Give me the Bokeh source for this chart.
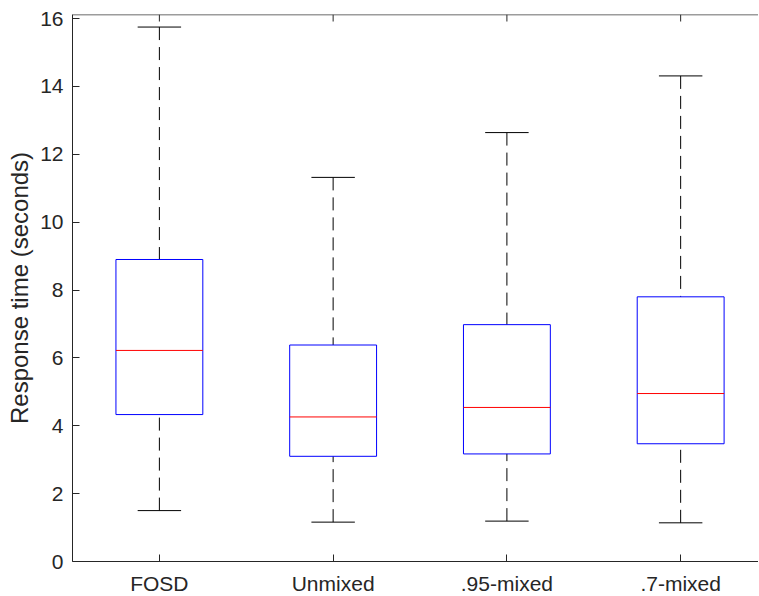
from bokeh.plotting import figure
from bokeh.models import Range1d, FixedTicker, LinearAxis, ColumnDataSource, Span
from bokeh.embed import file_html
from bokeh.resources import INLINE

categories = ["FOSD", "Unmixed", ".95-mixed", ".7-mixed"]
whisker_low = [1.50, 1.16, 1.19, 1.14]
q1 = [4.33, 3.10, 3.17, 3.47]
median = [6.22, 4.26, 4.54, 4.95]
q3 = [8.90, 6.38, 6.98, 7.80]
whisker_high = [15.75, 11.32, 12.64, 14.31]
y_ticks = [0, 2, 4, 6, 8, 10, 12, 14, 16]

Y_MAX = 16.12
X_MIN, X_MAX = 0.5, 4.448
FRAME_W, FRAME_H = 686, 547
TICK = 7

pos = list(range(1, len(categories) + 1))
box_half = 0.25
cap_half = 0.125
tick_data = TICK * Y_MAX / FRAME_H

src = ColumnDataSource(dict(
    x=pos,
    left=[v - box_half for v in pos],
    right=[v + box_half for v in pos],
    cap_l=[v - cap_half for v in pos],
    cap_r=[v + cap_half for v in pos],
    lo=whisker_low, q1=q1, med=median, q3=q3, hi=whisker_high,
    top=[Y_MAX] * len(pos),
    top_in=[Y_MAX - tick_data] * len(pos),
))

FONT = "Liberation Sans"
TXT = "#262626"
AX = "#262626"

p = figure(frame_width=FRAME_W, frame_height=FRAME_H,
           x_range=Range1d(X_MIN, X_MAX), y_range=Range1d(0, Y_MAX),
           output_backend="svg", toolbar_location=None,
           x_axis_location=None, y_axis_location=None,
           min_border_left=72, min_border_right=0,
           min_border_top=14, min_border_bottom=10)
p.outline_line_color = None
p.xgrid.visible = False
p.ygrid.visible = False
p.background_fill_color = "white"
p.border_fill_color = "white"

# top box edge with inward ticks
p.add_layout(Span(location=Y_MAX, dimension="width", line_color="#3a3a3a", line_width=1.5))
p.segment(x0="x", y0="top", x1="x", y1="top_in", source=src,
          line_color=AX, line_width=1)

# whiskers (dashed)
p.segment(x0="x", y0="hi", x1="x", y1="q3", source=src,
          line_color="black", line_width=1, line_dash="13 7")
p.segment(x0="x", y0="lo", x1="x", y1="q1", source=src,
          line_color="black", line_width=1, line_dash="13 7")
# caps
p.segment(x0="cap_l", y0="hi", x1="cap_r", y1="hi", source=src,
          line_color="black", line_width=1)
p.segment(x0="cap_l", y0="lo", x1="cap_r", y1="lo", source=src,
          line_color="black", line_width=1)
# boxes
p.quad(left="left", right="right", bottom="q1", top="q3", source=src,
       fill_color=None, line_color="#0000FF", line_width=1)
# medians
p.segment(x0="left", y0="med", x1="right", y1="med", source=src,
          line_color="#FF0000", line_width=1)

# left axis
yax = LinearAxis(ticker=FixedTicker(ticks=y_ticks))
yax.axis_label = "Response time (seconds)"
yax.axis_label_text_font = FONT
yax.axis_label_text_font_size = "24px"
yax.axis_label_text_font_style = "normal"
yax.axis_label_text_color = TXT
yax.axis_label_standoff = 4
yax.major_label_text_font = FONT
yax.major_label_text_font_size = "21px"
yax.major_label_text_color = TXT
yax.major_label_standoff = 9
yax.major_tick_in = TICK
yax.major_tick_out = 0
yax.minor_tick_line_color = None
yax.axis_line_color = AX
yax.major_tick_line_color = AX
p.add_layout(yax, "left")

# bottom axis
xax = LinearAxis(ticker=FixedTicker(ticks=pos))
xax.major_label_overrides = {v: c for v, c in zip(pos, categories)}
xax.major_label_text_font = FONT
xax.major_label_text_font_size = "21px"
xax.major_label_text_color = TXT
xax.major_label_standoff = 10
xax.major_tick_in = TICK
xax.major_tick_out = 0
xax.minor_tick_line_color = None
xax.axis_line_color = AX
xax.major_tick_line_color = AX
p.add_layout(xax, "below")

open("out.html", "w").write(file_html(p, INLINE))
